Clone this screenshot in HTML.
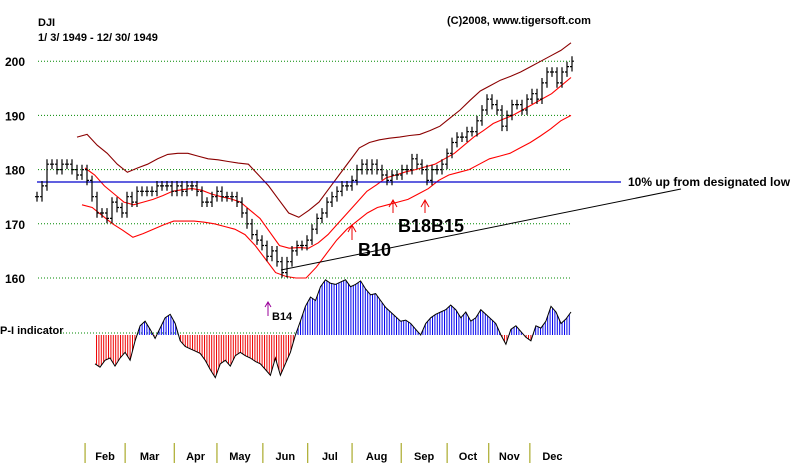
<!DOCTYPE html>
<html><head><meta charset="utf-8"><style>
body{margin:0;background:#fff;width:800px;height:463px;overflow:hidden}
svg{display:block;font-family:"Liberation Sans",Arial,sans-serif;font-weight:bold}
</style></head><body>
<svg id="c" width="800" height="463" viewBox="0 0 800 463">
<defs>
<pattern id="stB" width="2.4" height="4" patternUnits="userSpaceOnUse"><rect width="1" height="4" fill="#0000ee"/></pattern>
<pattern id="stR" width="2.4" height="4" patternUnits="userSpaceOnUse"><rect width="1" height="4" fill="#ee0000"/></pattern>
<clipPath id="above"><rect x="0" y="0" width="800" height="335"/></clipPath>
<clipPath id="below"><rect x="0" y="335" width="800" height="128"/></clipPath>
</defs>
<text x="38" y="26" font-size="11">DJI</text>
<text x="38" y="41" font-size="11">1/ 3/ 1949 - 12/ 30/ 1949</text>
<text x="447" y="24" font-size="11">(C)2008, www.tigersoft.com</text>
<g id="grid"></g>
<g id="bands"></g>
<line x1="37" y1="182" x2="621" y2="182" stroke="#0000cc" stroke-width="1.2"/>
<text x="628" y="186" font-size="12">10% up from designated low</text>
<line x1="281" y1="270" x2="681" y2="189" stroke="#000" stroke-width="1"/>
<g id="price"></g>
<g stroke="#e00" fill="none" stroke-width="1">
<path d="M352 240V225M348 232L352 225L356 232"/><path d="M393 213V200M389 207L393 200L397 207"/><path d="M425 213V200M421 207L425 200L429 207"/>
</g>
<text x="358" y="256" font-size="18">B10</text>
<text x="398" y="232" font-size="18">B18</text>
<text x="431" y="232" font-size="18">B15</text>
<path d="M268 316V302M265 307L268 302L271 307" stroke="#909" fill="none"/>
<text x="272" y="320" font-size="11">B14</text>
<text x="0" y="334" font-size="11">P-I indicator</text>
<line x1="60" y1="333" x2="300" y2="333" stroke="#080" stroke-dasharray="1 2"/>
<g id="ind"></g>
<g id="months"></g>
</svg>
<script>
const yTicks=[160,170,180,190,200];
const priceClose=[175,177,181,181,180,181,181,180,179,180,178,175,172,172,171,174,173,172,175,174,176,176,176,176,177,177,177,176,177,176,177,177,176,174,174,175,176,175,175,175,174,172,170,168,167,166,164,165,163,161,163,165,166,166,167,169,171,172,174,175,176,177,177,178,180,181,180,181,180,179,178,179,179,180,180,182,181,180,178,180,180,181,183,185,186,186,187,187,189,191,193,192,191,188,190,192,192,191,193,194,193,196,198,198,196,198,199,200];
const upperBand=[186,186.5,184.5,183,181,179.5,180.3,181,182,182.8,183,183,182.5,182,181.8,181.5,181.2,181,179,177,174.5,172,171.2,172.5,174,176.5,179,181.5,184,185,185.5,185.8,186,186.3,186.5,187.2,188,189.5,191,192.8,194.5,195.5,196.5,197.2,198,199,200,201,202,203.4];
const middleBand=[180.3,179,177,175.5,174,173.5,174,174.5,175.2,176,176.3,176.5,176.2,175.5,175,174.6,174,172.5,171,168.5,166,165.5,165.6,165.5,166.5,168,170,172,174,176,177.2,178.5,179,179.6,180,180.5,181,182,183,184.5,186,187.2,188.5,189.3,190,191,192,193,194,195.5,197];
const lowerBand=[173.5,173,171.5,170,168.8,167.5,168.2,169,169.8,170.5,170.5,170.5,170.3,170,169.5,169,168,166,163.5,161,160.3,160,160,162,164.5,167,169,170.5,172,173,173.5,174,174.5,175.5,176.5,178,179,179.5,180,181,182,182.5,183,184,185,186.2,187.5,189,190];
const indicator=[-25,-28,-22,-20,-27,-20,-15,-22,-5,8,12,5,-3,6,15,18,10,-5,-10,-12,-14,-16,-22,-30,-37,-25,-22,-27,-18,-15,-18,-20,-23,-25,-30,-35,-20,-35,-25,-15,0,12,25,33,30,42,48,45,44,46,48,42,44,47,40,35,36,30,24,20,16,12,13,10,5,0,10,15,18,20,22,26,22,15,20,12,15,22,18,14,10,0,-8,5,8,3,-2,-5,8,6,12,25,20,10,14,20];
const months=["Feb","Mar","Apr","May","Jun","Jul","Aug","Sep","Oct","Nov","Dec"];
const monthStart=[0.090,0.165,0.257,0.337,0.423,0.507,0.590,0.682,0.768,0.846,0.923];

const NS="http://www.w3.org/2000/svg";
const X0=37,X1=572;
const yP=v=>278-(v-160)*5.42;
const mk=(t,a,p)=>{const e=document.createElementNS(NS,t);for(const k in a)e.setAttribute(k,a[k]);p.appendChild(e);return e;};
const g=id=>document.getElementById(id);

yTicks.forEach(v=>{
  const l=mk('line',{x1:38,x2:571,y1:yP(v),y2:yP(v),stroke:'#080','stroke-dasharray':'1 2'},g('grid'));
  
  
  const t=mk('text',{x:5,y:yP(v)+5,'font-size':12},g('grid'));t.textContent=v;
  
  
});

function band(arr,x0,col,name){
  const n=arr.length;const pts=arr.map((v,i)=>(x0+(571-x0)*i/(n-1)).toFixed(1)+','+yP(v).toFixed(1)).join(' ');
  const p=mk('polyline',{points:pts,fill:'none',stroke:col,'stroke-width':1.1},g('bands'));
  
  
}
band(upperBand,77,'#8b0000','upper-band');
band(middleBand,85,'#ff0000','middle-band');
band(lowerBand,82,'#ff0000','lower-band');

const np=priceClose.length;
priceClose.forEach((v,i)=>{
  const x=X0+(X1-X0)*i/(np-1);
  const prev=i?priceClose[i-1]:v;
  const hi=Math.max(v,prev)+0.9,lo=Math.min(v,prev)-0.9;
  const b=mk('path',{d:`M${x.toFixed(1)} ${yP(hi).toFixed(1)}V${yP(lo).toFixed(1)}M${(x-2).toFixed(1)} ${yP(prev).toFixed(1)}H${x.toFixed(1)}M${x.toFixed(1)} ${yP(v).toFixed(1)}H${(x+2).toFixed(1)}`,stroke:'#000','stroke-width':1.2,fill:'none'},g('price'));
  
  
});

const IX0=95,IX1=571,Z=335,S=1.15;
const ni=indicator.length;
const ix=i=>IX0+(IX1-IX0)*i/(ni-1);
const pts=indicator.map((v,i)=>ix(i).toFixed(1)+','+(Z-v*S).toFixed(1));
const area='M'+IX0+','+Z+' L'+pts.join(' L')+' L'+IX1+','+Z+'Z';
const a1=mk('path',{d:area,fill:'url(#stB)','clip-path':'url(#above)'},g('ind'));


const a2=mk('path',{d:area,fill:'url(#stR)','clip-path':'url(#below)'},g('ind'));


const il=mk('polyline',{points:pts.join(' '),fill:'none',stroke:'#000','stroke-width':1},g('ind'));



months.forEach((m,i)=>{
  const x=37+534*monthStart[i];
  const l=mk('line',{x1:x,x2:x,y1:443,y2:463,stroke:'#999900'},g('months'));
  
  
  const nx=i<months.length-1?37+534*monthStart[i+1]:575;
  const t=mk('text',{x:(x+nx)/2,y:460,'font-size':11,'text-anchor':'middle'},g('months'));t.textContent=m;
  
  
});
</script>
</body></html>
